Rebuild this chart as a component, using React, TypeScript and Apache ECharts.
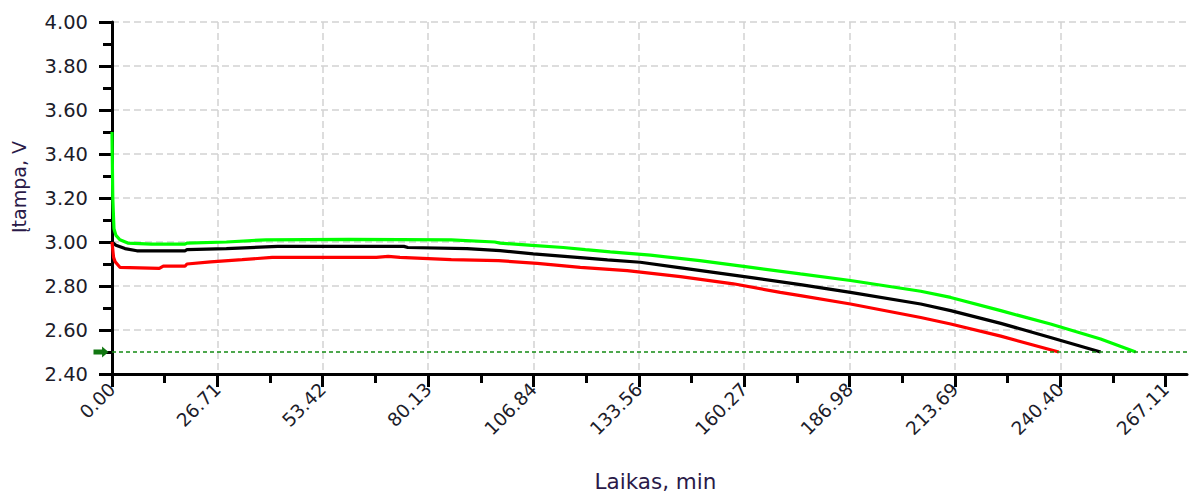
import React, { useEffect, useRef } from "react";
import * as echarts from "echarts";

// ---- axes ----
const X_STEP = 26.7111;
const X_MAX = 272.5;
const X_LABELS = ["0.00", "26.71", "53.42", "80.13", "106.84", "133.56", "160.27", "186.98", "213.69", "240.40", "267.11"];
const Y_MIN = 2.4;
const Y_MAX = 4.0;
const Y_STEP = 0.2;
const CUTOFF_V = 2.5;

const X_TITLE = "Laikas, min";
const Y_TITLE = "Įtampa, V";

// ---- series: [time min, voltage V] ----
const GREEN: [number, number][] = [
  [0, 3.5], [0.2, 3.2], [0.5, 3.06], [1, 3.03], [2, 3.01], [4, 2.995], [10, 2.99], [18.5, 2.99],
  [19, 2.995], [29, 3.0], [39, 3.01], [60, 3.012], [86, 3.01], [97, 3.0], [98.4, 2.995],
  [106.5, 2.985], [114.4, 2.975], [120, 2.965], [126.3, 2.955], [136.5, 2.94], [149, 2.915],
  [162, 2.885], [174.5, 2.855], [187.2, 2.825], [205, 2.776], [212.6, 2.748], [225.3, 2.688],
  [237.9, 2.627], [250.6, 2.559], [259.5, 2.5],
];
const BLACK: [number, number][] = [
  [0, 3.0], [1, 2.985], [3.3, 2.97], [6.3, 2.96], [18.5, 2.96], [19, 2.965], [29, 2.97],
  [42, 2.98], [74, 2.98], [75, 2.975], [90, 2.97], [98.4, 2.961], [106.8, 2.946], [119.5, 2.928],
  [125.6, 2.919], [133.9, 2.908], [143.3, 2.885], [152.5, 2.862], [162.6, 2.837], [174.5, 2.806],
  [187.2, 2.771], [205, 2.718], [212.6, 2.688], [225.3, 2.63], [237.9, 2.566], [250.6, 2.5],
];
const RED: [number, number][] = [
  [0, 3.0], [0.4, 2.93], [0.8, 2.91], [2, 2.885], [12, 2.88], [13, 2.89], [18.5, 2.89], [19, 2.9],
  [25, 2.91], [33, 2.92], [40.6, 2.93], [67, 2.93], [70, 2.935], [73, 2.93], [86, 2.92],
  [98, 2.915], [107.8, 2.903], [118.7, 2.885], [130.6, 2.87], [144.1, 2.843], [157.5, 2.81],
  [169.4, 2.771], [174.5, 2.756], [187.2, 2.718], [205, 2.657], [212.6, 2.627], [225.3, 2.572],
  [240, 2.5],
];

const FONT = "DejaVu Sans";
const TEXT_COLOR = "#1c1c2a";
const TITLE_COLOR = "#2a1a48";

export default function App() {
  const ref = useRef<HTMLDivElement>(null);
  useEffect(() => {
    if (!ref.current) return;
    const chart = echarts.init(ref.current, undefined, { renderer: "svg" });
    const majorX = X_LABELS.map((_, i) => +(i * X_STEP).toFixed(4));
    const minorX = X_LABELS.slice(1).map((_, i) => +((i + 0.5) * X_STEP).toFixed(4));
    const axisLine = { show: true, lineStyle: { color: "#000", width: 3 } };
    const split = { show: true, lineStyle: { color: "#d2d2d2", width: 1.5, type: [7, 4] } };
    const lineSeries = (name: string, data: [number, number][], color: string) => ({
      name,
      type: "line",
      data,
      showSymbol: false,
      symbol: "none",
      lineStyle: { color, width: 3.2 },
      itemStyle: { color },
      emphasis: { disabled: true },
    });
    chart.setOption({
      animation: false,
      grid: { left: 112, right: 11, top: 22, bottom: 122, outerBoundsMode: "none" },
      xAxis: [
        {
          type: "value",
          min: 0,
          max: X_MAX,
          interval: X_STEP,
          axisLine,
          axisTick: { show: true, customValues: majorX, length: 13, lineStyle: { color: "#000", width: 3 } },
          axisLabel: {
            customValues: majorX,
            rotate: 45,
            margin: 12,
            fontFamily: FONT,
            fontSize: 18.5,
            color: TEXT_COLOR,
            formatter: (v: number) => X_LABELS[Math.round(v / X_STEP)] ?? "",
          },
          splitLine: { ...split, showMaxLine: false },
          name: X_TITLE,
          nameLocation: "middle",
          nameGap: 96,
          nameTextStyle: { fontFamily: FONT, fontSize: 21.5, color: TITLE_COLOR, padding: [0, 0, 0, 12] },
        },
        {
          type: "value",
          position: "bottom",
          min: 0,
          max: X_MAX,
          interval: X_STEP,
          axisLine: { show: false },
          axisTick: { show: true, customValues: minorX, length: 9, lineStyle: { color: "#000", width: 3 } },
          axisLabel: { show: false },
          splitLine: { show: false },
        },
      ],
      yAxis: {
        type: "value",
        min: Y_MIN,
        max: Y_MAX,
        interval: Y_STEP,
        axisLine,
        axisTick: { show: true, length: 13, lineStyle: { color: "#000", width: 3 } },
        minorTick: { show: true, splitNumber: 2, length: 9, lineStyle: { color: "#000", width: 3 } },
        axisLabel: {
          margin: 24,
          fontFamily: FONT,
          fontSize: 19.5,
          color: TEXT_COLOR,
          formatter: (v: number) => v.toFixed(2),
        },
        splitLine: split,
        name: Y_TITLE,
        nameLocation: "middle",
        nameGap: 84,
        nameTextStyle: { fontFamily: FONT, fontSize: 19, color: TITLE_COLOR, padding: [0, 0, 0, 22] },
      },
      series: [
        {
          ...lineSeries("green", GREEN, "#00ff00"),
          markLine: {
            silent: true,
            symbol: ["none", "none"],
            label: { show: false },
            lineStyle: { color: "#138a13", width: 1.5, type: [4, 3] },
            data: [{ yAxis: CUTOFF_V }],
          },
          markPoint: {
            silent: true,
            symbol: "path://M0,3 L8,3 L8,0 L14,5.5 L8,11 L8,8 L0,8 Z",
            symbolSize: [15, 11],
            symbolOffset: [-11, 0],
            label: { show: false },
            itemStyle: { color: "#117711" },
            data: [{ coord: [0, CUTOFF_V] }],
          },
        },
        lineSeries("black", BLACK, "#000000"),
        lineSeries("red", RED, "#ff0000"),
      ],
    });
    return () => chart.dispose();
  }, []);
  return (
    <div
      ref={ref}
      style={{ position: "fixed", left: 0, top: 0, width: 1198, height: 496, background: "#fff" }}
    />
  );
}
